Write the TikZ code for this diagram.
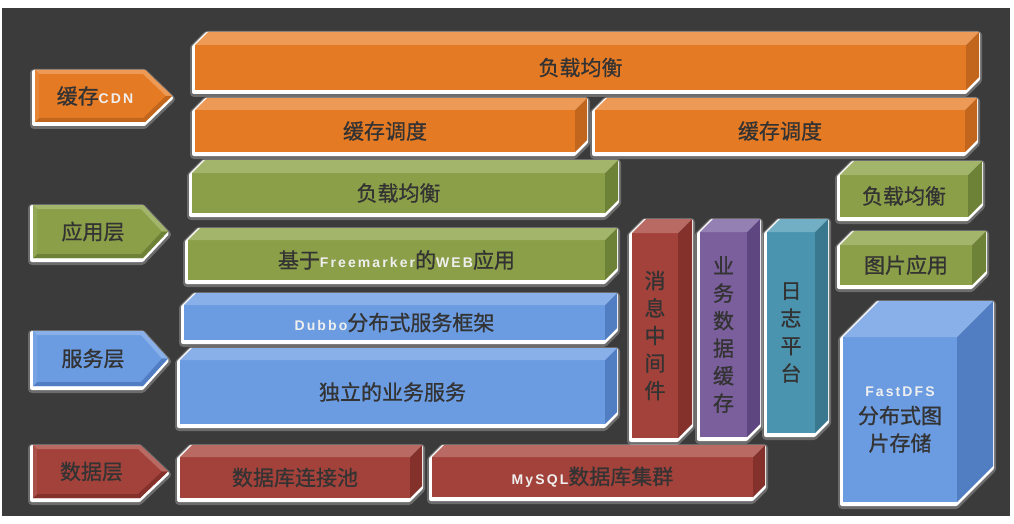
\documentclass[tikz,border=0pt]{standalone}
\usepackage{fontspec}
\newfontfamily\cjk[FakeBold=0.8]{Noto Sans CJK SC}
\newfontfamily\latn[LetterSpace=15]{Liberation Sans}
\definecolor{bg}{HTML}{3B3B3B}
\definecolor{txt}{HTML}{333333}
\definecolor{latin}{HTML}{EFEFEF}
\definecolor{orF}{HTML}{E57A25}\definecolor{orT}{HTML}{EC9A55}\definecolor{orS}{HTML}{C2661E}
\definecolor{grF}{HTML}{8A9F48}\definecolor{grT}{HTML}{A3B56B}\definecolor{grS}{HTML}{6E8237}
\definecolor{blF}{HTML}{6B9BE1}\definecolor{blT}{HTML}{8AB0EA}\definecolor{blS}{HTML}{517EC3}
\definecolor{rdF}{HTML}{A3423A}\definecolor{rdT}{HTML}{B86A63}\definecolor{rdS}{HTML}{85312B}
\definecolor{puF}{HTML}{7B5E9C}\definecolor{puT}{HTML}{9580B4}\definecolor{puS}{HTML}{5E4780}
\definecolor{teF}{HTML}{4B94AF}\definecolor{teT}{HTML}{72AFC5}\definecolor{teS}{HTML}{3A788F}
\tikzset{
  boxtext/.style={font=\cjk\fontsize{21}{27.5}\selectfont, text=txt, align=center, inner sep=0pt},
  halo/.style={draw=white, line width=8pt, line join=round, opacity=0.25},
  glow/.style={draw=white, fill=white, line width=4pt, line join=round},
}
\newcommand\lt[1]{{\latn\bfseries\fontsize{14}{16}\selectfont\color{latin}#1}}
% name x1 y1 x2 y2 depth colour text
\newcommand\bx[8]{%
  \draw[halo,shift={(-1,3)}] (#2,#5) -- (#2,#3) -- ({#2+#6},{#3-#6}) -- ({#4+#6},{#3-#6}) -- ({#4+#6},{#5-#6}) -- (#4,#5) -- cycle;
  \draw[glow,shift={(-1,2)}] (#2,#5) -- (#2,#3) -- ({#2+#6},{#3-#6}) -- ({#4+#6},{#3-#6}) -- ({#4+#6},{#5-#6}) -- (#4,#5) -- cycle;
  \fill[#7F] (#2,#3) rectangle (#4,#5);
  \fill[#7T] (#2,#3) -- ({#2+#6},{#3-#6}) -- ({#4+#6},{#3-#6}) -- (#4,#3) -- cycle;
  \fill[#7S] (#4,#3) -- ({#4+#6},{#3-#6}) -- ({#4+#6},{#5-#6}) -- (#4,#5) -- cycle;
  \node[boxtext] (#1) at ({(#2+#4)/2},{(#3+#5)/2}) {#8};
}
% name L T B F X colour text
\newcommand\lbl[8]{%
  \pgfmathsetmacro\md{(#3+#4)/2}%
  \draw[halo,shift={(-1,3)}] (#2,#3) -- (#5,#3) -- (#6,\md) -- (#5,#4) -- (#2,#4) -- cycle;
  \draw[glow,shift={(-1,2)}] (#2,#3) -- (#5,#3) -- (#6,\md) -- (#5,#4) -- (#2,#4) -- cycle;
  \fill[#7F] (#2,#3) -- (#5,#3) -- (#6,\md) -- (#5,#4) -- (#2,#4) -- cycle;
  \fill[#7T] (#2,#3) -- (#5,#3) -- (#6,\md) -- ({#6-6},\md) -- ({#5-2},{#3+4}) -- ({#2+4},{#3+4}) -- cycle;
  \fill[#7S] (#2,#4) -- (#5,#4) -- (#6,\md) -- ({#6-6},\md) -- ({#5-2},{#4-4}) -- ({#2+4},{#4-4}) -- cycle;
  \fill[#7F!92!white] (#2,#3) -- ({#2+4},{#3+4}) -- ({#2+4},{#4-4}) -- (#2,#4) -- cycle;
  \node[boxtext] (#1) at ({(#2+#5)/2+5},\md) {#8};
}
\begin{document}
\begin{tikzpicture}[x=1pt,y=-1pt]
\useasboundingbox (0,0) rectangle (1014,524);
\fill[white] (0,0) rectangle (1014,524);
\fill[bg] (2,8) rectangle (1010,516);

% left layer labels
\lbl{lcdn}{35}{70}{122}{145}{172}{or}{缓存\lt{CDN}}
\lbl{lapp}{33}{205}{258}{143}{168}{gr}{应用层}
\lbl{lsvc}{33}{331}{386}{143}{168}{bl}{服务层}
\lbl{ldat}{33}{445}{498}{140}{168}{rd}{数据层}

% cache layer
\bx{lbtop}{195}{45}{966}{90}{13}{or}{负载均衡}
\bx{cache1}{195}{110}{575}{152}{12}{or}{缓存调度}
\bx{cache2}{595}{110}{965}{152}{12}{or}{缓存调度}

% application layer
\bx{lbapp}{192}{173}{605}{213}{13}{gr}{负载均衡}
\bx{web}{188}{240}{605}{280}{12}{gr}{基于\lt{Freemarker}的\lt{WEB}应用}

% service layer
\bx{dubbo}{184}{305}{605}{340}{12}{bl}{\lt{Dubbo}分布式服务框架}
\bx{svc}{180}{360}{605}{424}{12}{bl}{独立的业务服务}

% data layer
\bx{pool}{180}{457}{410}{498}{12}{rd}{数据库连接池}
\bx{mysql}{432}{457}{753}{497}{12}{rd}{\lt{MySQL}数据库集群}

% columns
\bx{mq}{632}{233}{678}{438}{14}{rd}{消\\息\\中\\间\\件}
\bx{bizcache}{700}{232}{747}{437}{13}{pu}{业\\务\\数\\据\\缓\\存}
\bx{log}{767}{232}{815}{433}{13}{te}{日\\志\\平\\台}

% right side
\bx{lbimg}{840}{175}{968}{217}{14}{gr}{负载均衡}
\bx{imgapp}{840}{245}{972}{285}{14}{gr}{图片应用}
\bx{fastdfs}{843}{337}{957}{502}{36}{bl}{\lt{FastDFS}\\分布式图\\片存储}
\end{tikzpicture}
\end{document}
